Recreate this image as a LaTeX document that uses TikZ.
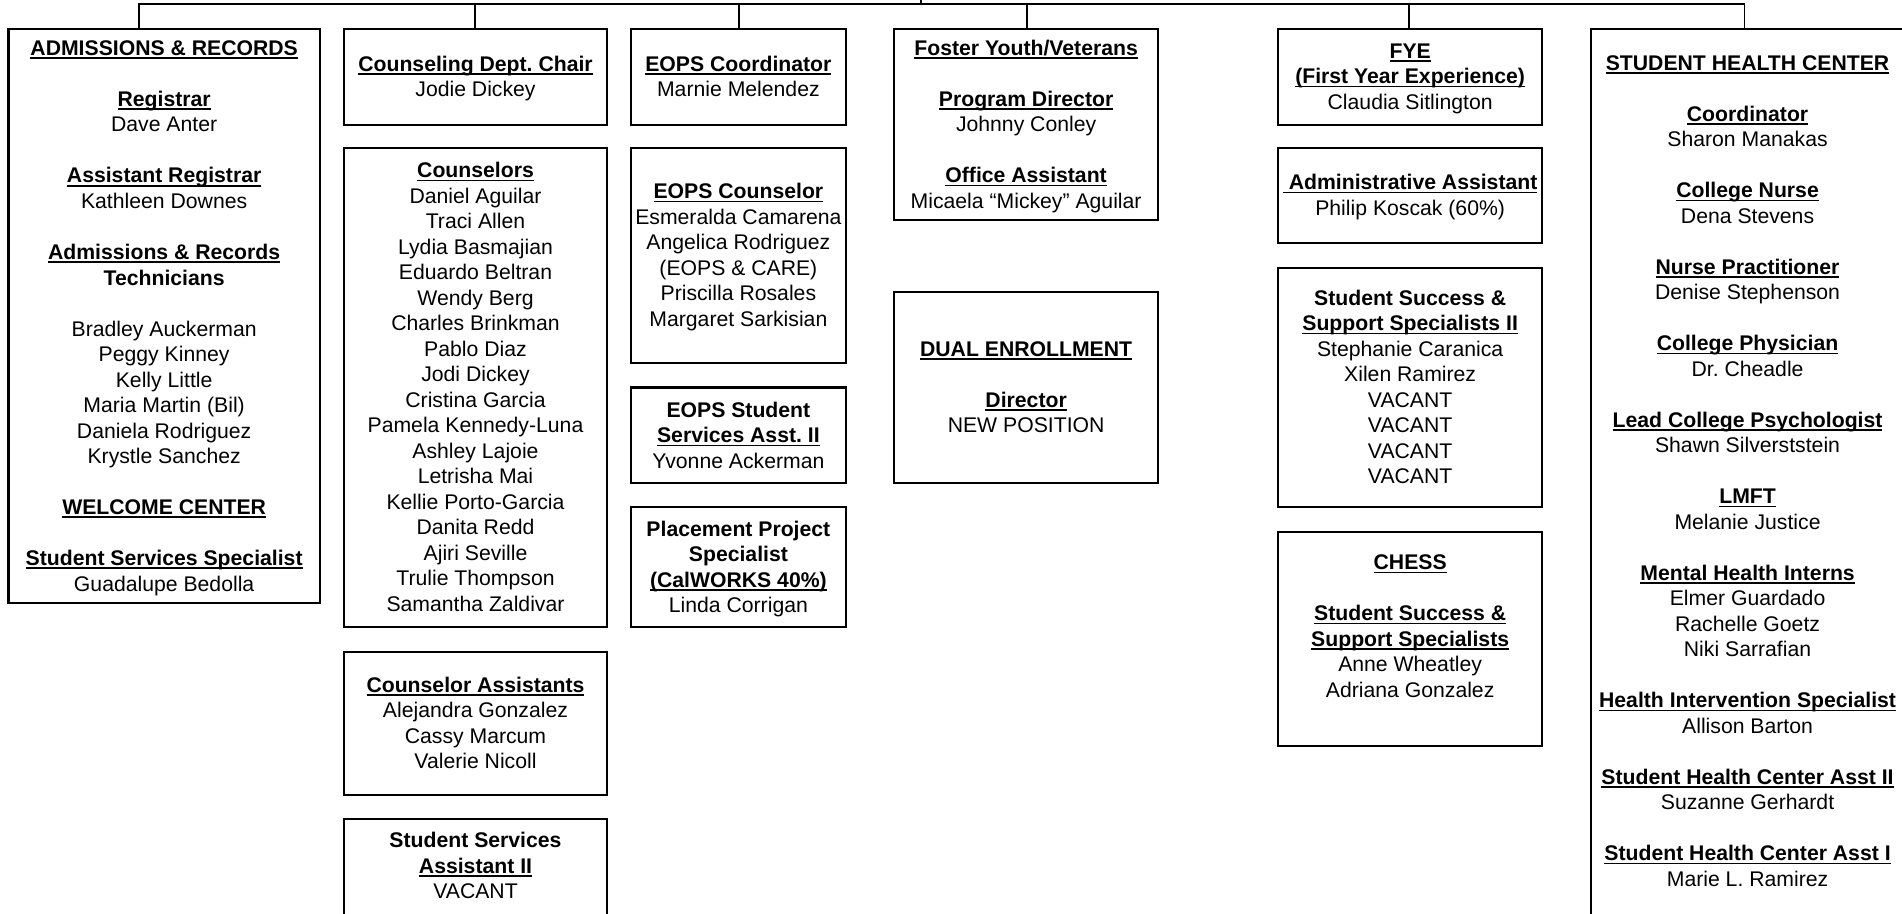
\documentclass[tikz,border=0pt]{standalone}
\usepackage{fontspec}
\setmainfont{Liberation Sans}
\frenchspacing
\newcommand\sst{\rule[-4.55pt]{0pt}{21.05pt}}
\newcommand\ulx[1]{\setbox0=\hbox{#1}\rlap{\rule[-2.9pt]{\wd0}{1.3pt}}\box0}
\newcommand\lx[1]{\hbox to\hsize{\hss\sst#1\hss}}
\newcommand\hd[1]{\ulx{\bfseries #1}}
\newcommand\bt[1]{{\bfseries #1}}
\newcommand\blk{\lx{}}
\newcommand\bxc[2]{\vbox{\hsize=#1pt #2}}
\begin{document}
\begin{tikzpicture}[x=1pt,y=-1pt,
  bx/.style={draw, line width=1.7pt, inner sep=0pt, anchor=north,
    font=\fontsize{17.5pt}{21.05pt}\selectfont},
  cn/.style={line width=1.5pt}]
\useasboundingbox (0,0) rectangle (1570,754.4);
\fill[white] (0,0) rectangle (1570,754.4);
\clip (0,0) rectangle (1570,754.4);

% column 1
\node[bx, minimum height=474pt] (adm) at (135.5,23) {\bxc{257}{%
\lx{\hd{ADMISSIONS \& RECORDS}}\blk
\lx{\hd{Registrar}}\lx{Dave Anter}\blk
\lx{\hd{Assistant Registrar}}\lx{Kathleen Downes}\blk
\lx{\hd{Admissions \& Records}}\lx{\bt{Technicians}}\blk
\lx{Bradley Auckerman}\lx{Peggy Kinney}\lx{Kelly Little}\lx{Maria Martin (Bil)}\lx{Daniela Rodriguez}\lx{Krystle Sanchez}\blk
\lx{\hd{WELCOME CENTER}}\blk
\lx{\hd{Student Services Specialist}}\lx{Guadalupe Bedolla}}};

% column 2
\node[bx, minimum height=79pt] (chair) at (392.5,23) {\bxc{217}{%
\lx{\hd{Counseling Dept. Chair}}\lx{Jodie Dickey}}};
\node[bx, minimum height=396pt] (couns) at (392.5,121) {\bxc{217}{%
\lx{\hd{Counselors}}\lx{Daniel Aguilar}\lx{Traci Allen}\lx{Lydia Basmajian}\lx{Eduardo Beltran}\lx{Wendy Berg}\lx{Charles Brinkman}\lx{Pablo Diaz}\lx{Jodi Dickey}\lx{Cristina Garcia}\lx{Pamela Kennedy-Luna}\lx{Ashley Lajoie}\lx{Letrisha Mai}\lx{Kellie Porto-Garcia}\lx{Danita Redd}\lx{Ajiri Seville}\lx{Trulie Thompson}\lx{Samantha Zaldivar}}};
\node[bx, minimum height=118pt] (casst) at (392.5,537) {\bxc{217}{%
\lx{\hd{Counselor Assistants}}\lx{Alejandra Gonzalez}\lx{Cassy Marcum}\lx{Valerie Nicoll}}};
\node[bx, minimum height=99.2pt] (ssa) at (392.5,675) {\bxc{217}{%
\lx{\bt{Student Services}}\lx{\hd{Assistant II}}\lx{VACANT}\blk}};

% column 3
\node[bx, minimum height=79pt] (eopsc) at (609.5,23) {\bxc{177}{%
\lx{\hd{EOPS Coordinator}}\lx{Marnie Melendez}}};
\node[bx, minimum height=178pt] (eopsco) at (609.5,121) {\bxc{177}{%
\lx{\hd{EOPS Counselor}}\lx{Esmeralda Camarena}\lx{Angelica Rodriguez}\lx{(EOPS \& CARE)}\lx{Priscilla Rosales}\lx{Margaret Sarkisian}}};
\node[bx, minimum height=79pt] (eopsa) at (609.5,319) {\bxc{177}{%
\lx{\bt{EOPS Student}}\lx{\hd{Services Asst. II}}\lx{Yvonne Ackerman}}};
\node[bx, minimum height=99pt] (place) at (609.5,418) {\bxc{177}{%
\lx{\bt{Placement Project}}\lx{\bt{Specialist}}\lx{\hd{(CalWORKS 40\%)}}\lx{Linda Corrigan}}};

% column 4
\node[bx, minimum height=158pt] (foster) at (847,23) {\bxc{218}{%
\lx{\hd{Foster Youth/Veterans}}\blk
\lx{\hd{Program Director}}\lx{Johnny Conley}\blk
\lx{\hd{Office Assistant}}\lx{Micaela “Mickey” Aguilar}}};
\node[bx, minimum height=158pt] (dual) at (847,240) {\bxc{218}{%
\lx{\hd{DUAL ENROLLMENT}}\blk
\lx{\hd{Director}}\lx{NEW POSITION}}};

% column 5
\node[bx, minimum height=79pt] (fye) at (1164,23) {\bxc{218}{%
\lx{\hd{FYE}}\lx{\hd{(First Year Experience)}}\lx{Claudia Sitlington}}};
\node[bx, minimum height=79pt] (admin) at (1164,121) {\bxc{218}{%
\lx{\hd{\ Administrative Assistant}}\lx{Philip Koscak (60\%)}}};
\node[bx, minimum height=198pt] (sss) at (1164,220) {\bxc{218}{%
\lx{\bt{Student Success \&}}\lx{\hd{Support Specialists II}}\lx{Stephanie Caranica}\lx{Xilen Ramirez}\lx{VACANT}\lx{VACANT}\lx{VACANT}\lx{VACANT}}};
\node[bx, minimum height=177pt] (chess) at (1164,438) {\bxc{218}{%
\lx{\hd{CHESS}}\blk
\lx{\hd{Student Success \&}}\lx{\hd{Support Specialists}}\lx{Anne Wheatley}\lx{Adriana Gonzalez}\blk}};

% column 6
\node[bx, minimum height=750.7pt] (shc) at (1442.5,23) {\bxc{259}{%
\lx{\hd{STUDENT HEALTH CENTER}}\blk
\lx{\hd{Coordinator}}\lx{Sharon Manakas}\blk
\lx{\hd{College Nurse}}\lx{Dena Stevens}\blk
\lx{\hd{Nurse Practitioner}}\lx{Denise Stephenson}\blk
\lx{\hd{College Physician}}\lx{Dr. Cheadle}\blk
\lx{\hd{Lead College Psychologist}}\lx{Shawn Silverststein}\blk
\lx{\hd{LMFT}}\lx{Melanie Justice}\blk
\lx{\hd{Mental Health Interns}}\lx{Elmer Guardado}\lx{Rachelle Goetz}\lx{Niki Sarrafian}\blk
\lx{\hd{Health Intervention Specialist}}\lx{Allison Barton}\blk
\lx{\hd{Student Health Center Asst II}}\lx{Suzanne Gerhardt}\blk
\lx{\hd{Student Health Center Asst I}}\lx{Marie L. Ramirez}\blk}};

% connectors
\coordinate (b1) at (115,3);
\coordinate (b2) at (392,3);
\coordinate (b3) at (610,3);
\coordinate (b4) at (848,3);
\coordinate (b5) at (1163,3);
\coordinate (b6) at (1440,3);
\coordinate (up1) at (760,3);
\coordinate (up2) at (760,-10);
\draw[cn] (b1 |- adm.north) -- (b1) -- (b6) -- (b6 |- shc.north);
\draw[cn] (b2) -- (b2 |- chair.north);
\draw[cn] (b3) -- (b3 |- eopsc.north);
\draw[cn] (b4) -- (b4 |- foster.north);
\draw[cn] (b5) -- (b5 |- fye.north);
\draw[cn] (up1) -- (up2);
\end{tikzpicture}
\end{document}
